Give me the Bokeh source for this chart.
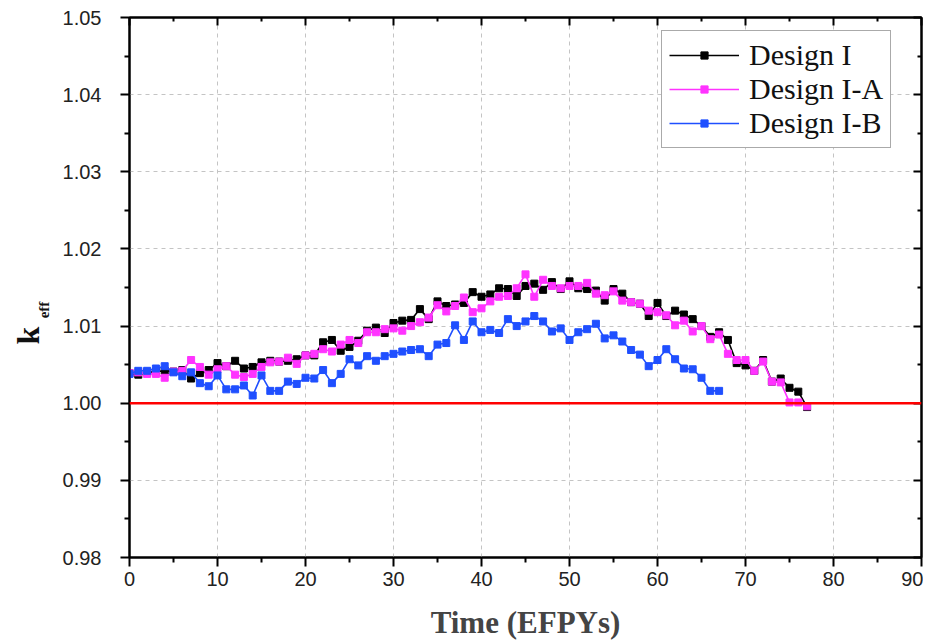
from bokeh.plotting import figure
from bokeh.models import (Range1d, LinearAxis, Span, Legend, LegendItem,
                          FixedTicker)
from bokeh.embed import file_html
from bokeh.resources import INLINE

# ---- data ----
time_I = list(range(78))
keff_I = [1.0039, 1.0037, 1.0040, 1.0041, 1.0042, 1.0041, 1.0043, 1.0032, 1.0039, 1.0043,
          1.0052, 1.0048, 1.0055, 1.0045, 1.0047, 1.0053, 1.0055, 1.0054, 1.0055, 1.0057,
          1.0062, 1.0062, 1.0079, 1.0082, 1.0068, 1.0073, 1.0081, 1.0094, 1.0098, 1.0091,
          1.0104, 1.0107, 1.0108, 1.0122, 1.0109, 1.0132, 1.0126, 1.0128, 1.0130, 1.0144,
          1.0138, 1.0141, 1.0149, 1.0148, 1.0139, 1.0152, 1.0155, 1.0147, 1.0157, 1.0148,
          1.0158, 1.0149, 1.0148, 1.0146, 1.0133, 1.0148, 1.0142, 1.0131, 1.0129, 1.0113,
          1.0130, 1.0113, 1.0120, 1.0115, 1.0109, 1.0100, 1.0086, 1.0092, 1.0082, 1.0052,
          1.0049, 1.0042, 1.0056, 1.0028, 1.0032, 1.0020, 1.0015, 0.9995]

time_IA = list(range(78))
keff_IA = [1.0039, 1.0040, 1.0038, 1.0038, 1.0033, 1.0041, 1.0042, 1.0056, 1.0047, 1.0037,
           1.0044, 1.0048, 1.0037, 1.0034, 1.0038, 1.0047, 1.0053, 1.0054, 1.0059, 1.0051,
           1.0062, 1.0064, 1.0070, 1.0067, 1.0076, 1.0082, 1.0078, 1.0092, 1.0092, 1.0096,
           1.0097, 1.0094, 1.0100, 1.0105, 1.0111, 1.0127, 1.0119, 1.0126, 1.0137, 1.0118,
           1.0123, 1.0132, 1.0138, 1.0139, 1.0149, 1.0167, 1.0138, 1.0160, 1.0152, 1.0149,
           1.0152, 1.0152, 1.0156, 1.0142, 1.0140, 1.0145, 1.0133, 1.0131, 1.0129, 1.0120,
           1.0118, 1.0114, 1.0101, 1.0107, 1.0093, 1.0100, 1.0083, 1.0089, 1.0064, 1.0056,
           1.0056, 1.0042, 1.0054, 1.0028, 1.0027, 1.0001, 1.0001, 0.9996]

time_IB = list(range(68))
keff_IB = [1.0038, 1.0042, 1.0042, 1.0045, 1.0048, 1.0040, 1.0035, 1.0040, 1.0026, 1.0022,
           1.0036, 1.0018, 1.0018, 1.0023, 1.0010, 1.0036, 1.0016, 1.0016, 1.0028, 1.0025,
           1.0033, 1.0032, 1.0043, 1.0026, 1.0038, 1.0057, 1.0049, 1.0061, 1.0055, 1.0061,
           1.0064, 1.0067, 1.0069, 1.0070, 1.0061, 1.0076, 1.0078, 1.0101, 1.0082, 1.0106,
           1.0092, 1.0095, 1.0091, 1.0109, 1.0100, 1.0106, 1.0113, 1.0106, 1.0093, 1.0097,
           1.0082, 1.0092, 1.0096, 1.0103, 1.0084, 1.0088, 1.0080, 1.0069, 1.0063, 1.0048,
           1.0056, 1.0070, 1.0057, 1.0045, 1.0044, 1.0033, 1.0016, 1.0016]

series_names = ["Design I", "Design I-A", "Design I-B"]
series_colors = ["#000000", "#ff33ff", "#1f4fff"]
critical_keff = 1.0

x_ticks = [0, 10, 20, 30, 40, 50, 60, 70, 80, 90]
y_ticks = [0.98, 0.99, 1.00, 1.01, 1.02, 1.03, 1.04, 1.05]

EM = "\u2003"
EN = "\u2002"


def minors(ticks):
    return [(a + b) / 2 for a, b in zip(ticks[:-1], ticks[1:])]


# ---- figure ----
p = figure(width=923, height=642, output_backend="svg", toolbar_location=None,
           x_range=Range1d(0, 90), y_range=Range1d(0.98, 1.05),
           min_border_left=129, min_border_right=2, min_border_top=17,
           min_border_bottom=85)
p.background_fill_color = "white"
p.border_fill_color = "white"
p.outline_line_color = "black"
p.outline_line_width = 2

tick_font = "Liberation Sans"
for ax, ticks in ((p.xaxis[0], x_ticks), (p.yaxis[0], y_ticks)):
    ax.ticker = FixedTicker(ticks=ticks, minor_ticks=minors(ticks))
    ax.axis_line_width = 2
    ax.major_tick_line_width = 2
    ax.minor_tick_line_width = 2
    ax.major_tick_out = 9
    ax.major_tick_in = 0
    ax.minor_tick_out = 5
    ax.minor_tick_in = 0
    ax.major_label_text_font = tick_font
    ax.major_label_text_font_size = "20px"
    ax.major_label_text_color = "#222222"

p.yaxis[0].major_label_overrides = {v: f"{v:.2f}" for v in y_ticks}
p.yaxis[0].major_label_standoff = 19
p.xaxis[0].major_label_standoff = 5

p.xaxis[0].axis_label = "Time (EFPYs)"
p.xaxis[0].axis_label_text_font = "Liberation Serif"
p.xaxis[0].axis_label_text_font_style = "bold"
p.xaxis[0].axis_label_text_font_size = "31px"
p.xaxis[0].axis_label_standoff = 16

# mirrored axes (top/right) with inward ticks, no labels
for loc, ticks in (("above", x_ticks), ("right", y_ticks)):
    ax = LinearAxis(ticker=FixedTicker(ticks=ticks, minor_ticks=minors(ticks)))
    ax.axis_line_width = 2
    ax.major_tick_line_width = 2
    ax.minor_tick_line_width = 2
    ax.major_tick_in = 8
    ax.major_tick_out = 0
    ax.minor_tick_in = 4
    ax.minor_tick_out = 0
    ax.major_label_text_font_size = "0px"
    ax.major_label_standoff = 0
    ax.major_label_text_color = None
    p.add_layout(ax, loc)


# y-axis label k_eff: two label-only axes, the subscript one nearer the plot
def label_axis(text, size, standoff):
    ax = LinearAxis(ticker=FixedTicker(ticks=[]))
    ax.axis_line_color = None
    ax.major_tick_line_color = None
    ax.minor_tick_line_color = None
    ax.major_tick_out = 0
    ax.minor_tick_out = 0
    ax.major_label_text_font_size = "0px"
    ax.major_label_standoff = 0
    ax.axis_label = text
    ax.axis_label_text_font = "Liberation Serif"
    ax.axis_label_text_font_style = "bold"
    ax.axis_label_text_font_size = size
    ax.axis_label_text_color = "#111111"
    ax.axis_label_standoff = standoff
    return ax


p.add_layout(label_axis("eff" + EM + EM + EM, "15px", 8), "left")
p.add_layout(label_axis("k" + EM + EM + EM, "32px", -13), "left")

# grid
p.xgrid.ticker = FixedTicker(ticks=x_ticks)
p.ygrid.ticker = FixedTicker(ticks=y_ticks)
for g in (p.xgrid[0], p.ygrid[0]):
    g.grid_line_color = "#c4c4c4"
    g.grid_line_dash = "4 4"
    g.grid_line_width = 1

# critical line
p.add_layout(Span(location=critical_keff, dimension="width",
                  line_color="#ff0000", line_width=2.5))

items = []
for name, color, xs, ys in zip(series_names, series_colors,
                               (time_I, time_IA, time_IB),
                               (keff_I, keff_IA, keff_IB)):
    r1 = p.line(xs, ys, line_color=color, line_width=1.6)
    r2 = p.scatter(xs, ys, marker="square", size=7, fill_color=color,
                   line_color=color)
    items.append(LegendItem(label=name, renderers=[r1, r2]))

legend = Legend(items=items, location=(532, 409))
legend.label_text_font = "Liberation Serif"
legend.label_text_font_size = "30px"
legend.label_text_color = "#111111"
legend.glyph_width = 70
legend.glyph_height = 18
legend.label_height = 33
legend.label_standoff = 10
legend.spacing = 0
legend.padding = 7
legend.margin = 0
legend.border_line_color = "#555555"
legend.border_line_width = 1.5
legend.background_fill_alpha = 1
p.add_layout(legend)

open("out.html", "w").write(file_html(p, INLINE))
